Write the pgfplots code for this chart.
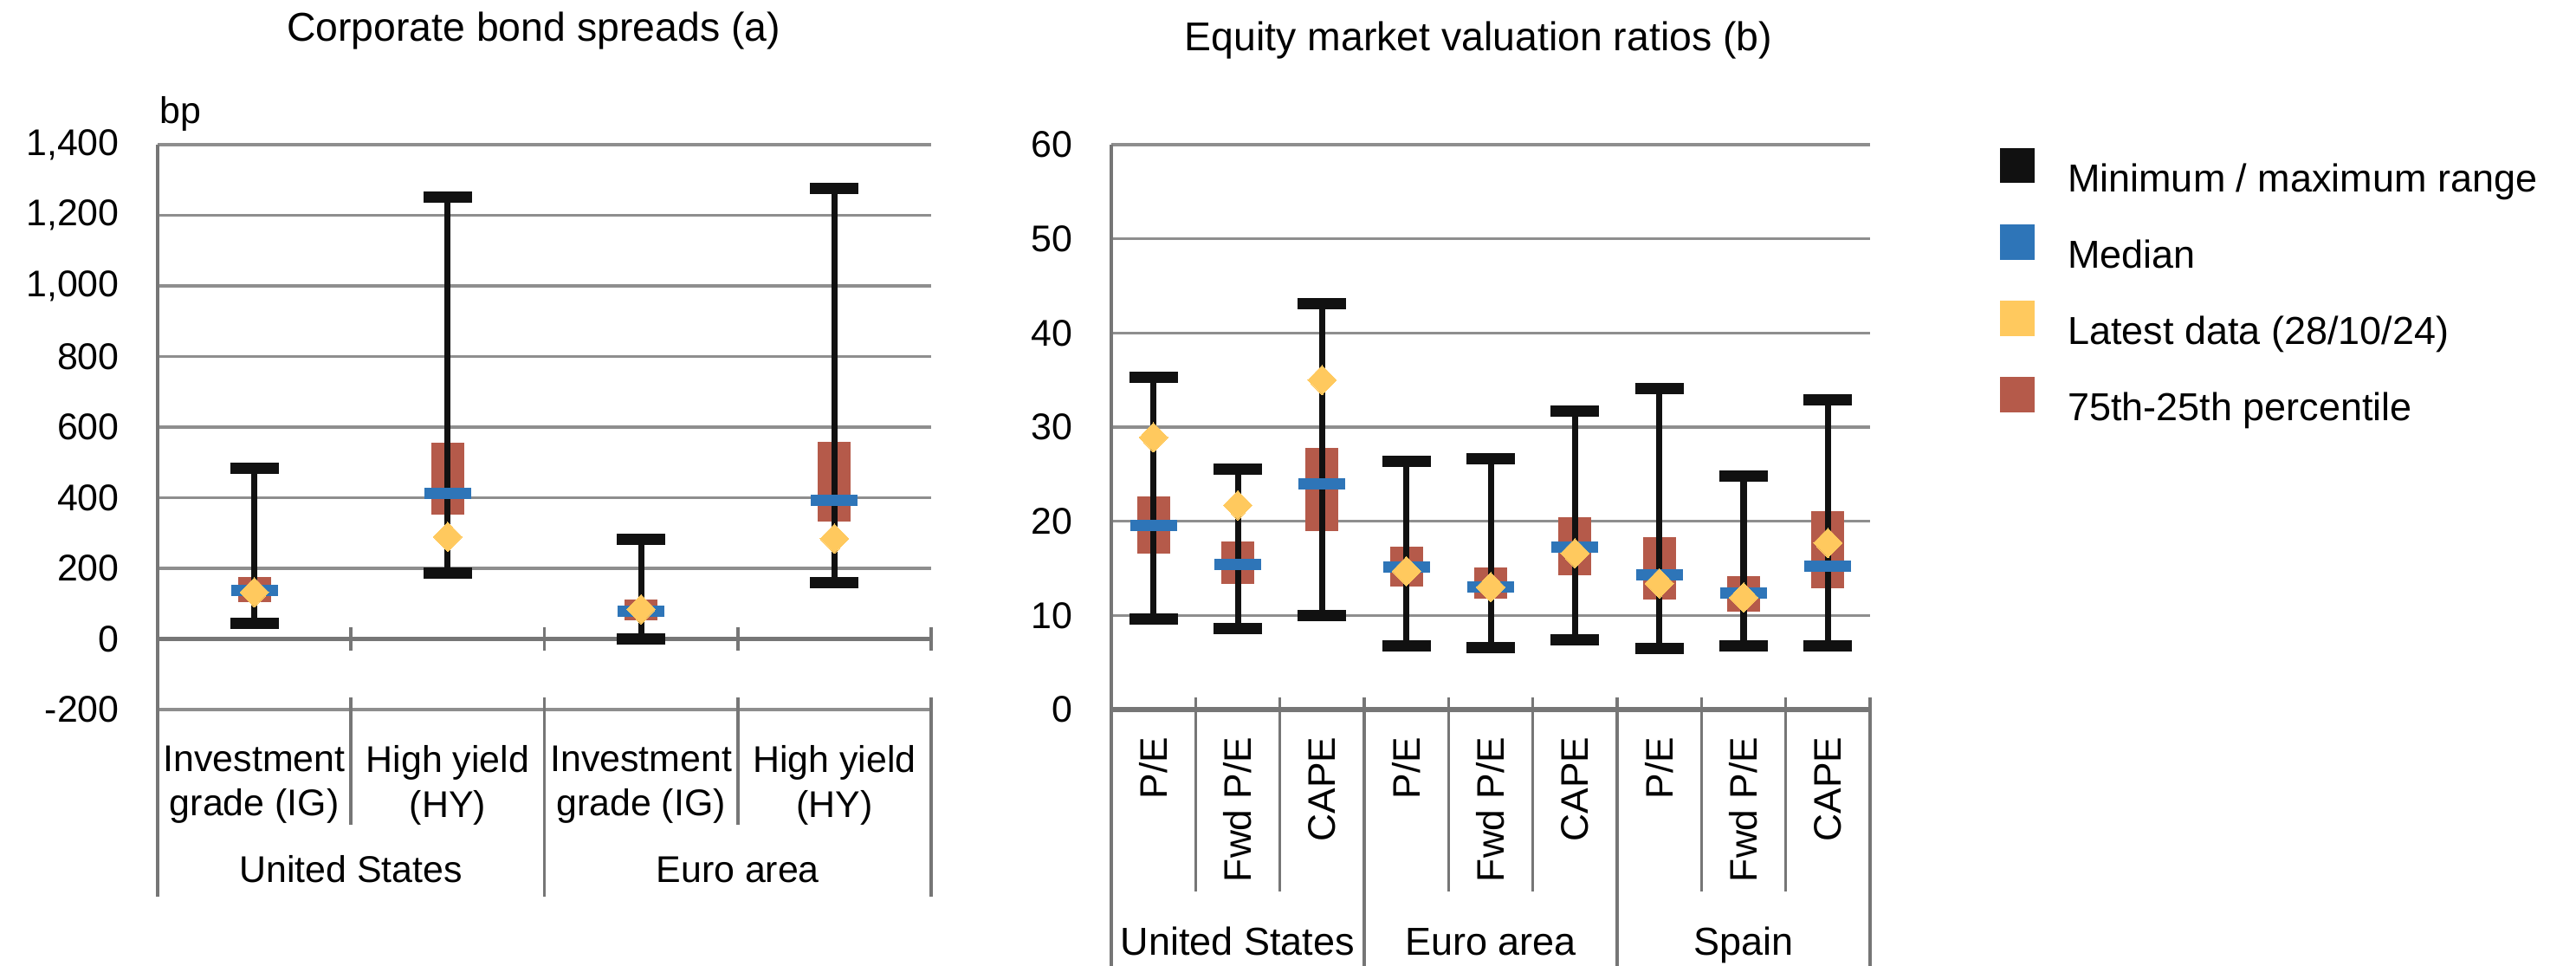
\documentclass[border=0pt]{standalone}
\usepackage{fontspec}
\setmainfont{Liberation Sans}
\usepackage{pgfplots}
\usepackage{pgfplotstable}
\pgfplotsset{compat=1.18}
\definecolor{cBox}{HTML}{B55A4A}
\definecolor{cMed}{HTML}{2E75B8}
\definecolor{cLat}{HTML}{FFC95E}
\definecolor{cBlk}{HTML}{111111}
\definecolor{cGrid}{HTML}{8E8E8E}
\definecolor{cAxis}{HTML}{767676}

% min, max, 25th/75th percentile, median, latest
\pgfplotstableread{
x lo  hi   q1  q3  med last
0 43  483  105 175 137 132
1 187 1251 353 556 413 289
2 0   281  53  111 78  84
3 160 1276 333 559 392 284
}\spreads
\pgfplotstableread{
x lo   hi   q1   q3   med  last
0 9.6  35.3 16.6 22.6 19.6 28.9
1 8.6  25.5 13.3 17.9 15.4 21.7
2 10.0 43.1 19.0 27.8 24.0 35.0
3 6.8  26.4 13.1 17.3 15.1 14.7
4 6.6  26.6 11.8 15.1 13.0 13.0
5 7.4  31.7 14.3 20.4 17.3 16.6
6 6.5  34.1 11.7 18.3 14.3 13.4
7 6.8  24.8 10.4 14.2 12.4 11.9
8 6.8  32.9 12.9 21.1 15.2 17.7
}\ratios

\newcommand{\ftick}{\fontsize{12.2}{14.6}\selectfont}
\newcommand{\fcat}{\fontsize{12.2}{14.6}\selectfont}

\newcommand{\boxplots}[1]{%
  \addplot[draw=none, mark=none, forget plot,
    error bars/.cd, y dir=both, y explicit, error mark=none,
    error bar style={draw=cBox, line width=0.38cm}]
    table[x=x, y expr={(\thisrow{q1}+\thisrow{q3})/2},
      y error expr={(\thisrow{q3}-\thisrow{q1})/2}] {#1};
  \addplot[draw=none, mark=none, forget plot,
    error bars/.cd, y dir=both, y explicit, error mark=|,
    error bar style={draw=cBlk, line width=2pt},
    error mark options={draw=cBlk, line width=3.7pt, mark size=0.28cm}]
    table[x=x, y expr={(\thisrow{lo}+\thisrow{hi})/2},
      y error expr={(\thisrow{hi}-\thisrow{lo})/2}] {#1};
  \addplot[only marks, forget plot, mark=-, mark size=0.27cm,
    mark options={draw=cMed, line width=3.7pt}]
    table[x=x, y=med] {#1};
  \addplot[only marks, forget plot, mark=diamond*, mark size=0.17cm,
    mark options={fill=cLat, draw=cLat, line width=0pt, xscale=1.3}]
    table[x=x, y=last] {#1};
}

\pgfplotsset{
  panel/.style={scale only axis, clip=false, anchor=south west, height=6.52cm,
    axis lines*=left, y axis line style={cAxis, line width=1pt},
    ymajorgrids, grid style={cGrid, line width=1pt},
    major tick length=0pt, tick style={draw=none},
    yticklabel style={font=\ftick, xshift=-0.32cm}}
}

\begin{document}
\begin{tikzpicture}
\useasboundingbox (0,0) rectangle (29.74,-11.15);

\node[font=\fontsize{13.2}{15}\selectfont] at (6.16,-0.36) {Corporate bond spreads (a)};
\node[font=\fontsize{13.2}{15}\selectfont] at (17.07,-0.47) {Equity market valuation ratios (b)};
\node[font=\ftick, anchor=base west, inner sep=0pt] at (1.84,-1.43) {bp};

\begin{axis}[panel, at={(1.82cm,-8.19cm)}, width=8.93cm,
  xmin=-0.5, xmax=3.5, ymin=-200, ymax=1400,
  x axis line style={draw=none},
  ytick={-200,0,...,1400},
  yticklabels={-200,0,200,400,600,800,{1,000},{1,200},{1,400}},
  extra y ticks={0}, extra y tick labels={},
  extra y tick style={grid style={cAxis, line width=1.4pt}},
  xtick={0,1,2,3},
  xticklabels={{Investment\\grade (IG)},{High yield\\(HY)},{Investment\\grade (IG)},{High yield\\(HY)}},
  xticklabel style={font=\fcat, align=center, anchor=north, inner ysep=0.41cm}]
\boxplots{\spreads}
\pgfplotsinvokeforeach{0.5,1.5,2.5,3.5}{
  \draw[cAxis, line width=1pt] (axis cs:#1,0) ++(0pt,0.14cm) -- ++(0pt,-0.27cm);}
\pgfplotsinvokeforeach{-0.5,1.5,3.5}{
  \draw[cAxis, line width=1pt] (axis cs:#1,-200) ++(0pt,0.14cm) -- ++(0pt,-2.30cm);}
\pgfplotsinvokeforeach{0.5,2.5}{
  \draw[cAxis, line width=1pt] (axis cs:#1,-200) ++(0pt,0.14cm) -- ++(0pt,-1.47cm);}
\node[font=\fcat, anchor=base, yshift=-1.99cm] at (axis cs:0.5,-200) {United States};
\node[font=\fcat, anchor=base, yshift=-1.99cm] at (axis cs:2.5,-200) {Euro area};
\end{axis}

\begin{axis}[panel, at={(12.83cm,-8.19cm)}, width=8.76cm,
  xmin=-0.5, xmax=8.5, ymin=0, ymax=60,
  x axis line style={cAxis, line width=1.7pt},
  ytick={0,10,...,60},
  yticklabels={0,10,20,30,40,50,60},
  xtick={0,...,8},
  xticklabels={P/E,Fwd P/E,CAPE,P/E,Fwd P/E,CAPE,P/E,Fwd P/E,CAPE},
  xticklabel style={font=\fontsize{12.6}{15}\selectfont, rotate=90, anchor=east, inner xsep=0.31cm},
  legend style={at={(axis description cs:1.170,0.995)}, anchor=north west,
    draw=none, fill=none, inner xsep=0pt, inner ysep=0pt,
    font=\fontsize{12.8}{15}\selectfont, row sep=0.255cm,
    /tikz/every odd column/.append style={column sep=0.31cm}},
  legend cell align=left,
  legend image code/.code={\fill[#1] (0cm,-0.03cm) rectangle (0.39cm,0.36cm);}]
\addlegendimage{cBlk}
\addlegendentry{Minimum / maximum range}
\addlegendimage{cMed}
\addlegendentry{Median}
\addlegendimage{cLat}
\addlegendentry{Latest data (28/10/24)}
\addlegendimage{cBox}
\addlegendentry{75th-25th percentile}
\boxplots{\ratios}
\pgfplotsinvokeforeach{-0.5,2.5,5.5,8.5}{
  \draw[cAxis, line width=1pt] (axis cs:#1,0) ++(0pt,0.14cm) -- ++(0pt,-3.2cm);}
\pgfplotsinvokeforeach{0.5,1.5,3.5,4.5,6.5,7.5}{
  \draw[cAxis, line width=1pt] (axis cs:#1,0) ++(0pt,0.14cm) -- ++(0pt,-2.24cm);}
\node[font=\fontsize{12.8}{15}\selectfont, anchor=base, yshift=-2.83cm] at (axis cs:1,0) {United States};
\node[font=\fontsize{12.8}{15}\selectfont, anchor=base, yshift=-2.83cm] at (axis cs:4,0) {Euro area};
\node[font=\fontsize{12.8}{15}\selectfont, anchor=base, yshift=-2.83cm] at (axis cs:7,0) {Spain};
\end{axis}
\end{tikzpicture}
\end{document}
